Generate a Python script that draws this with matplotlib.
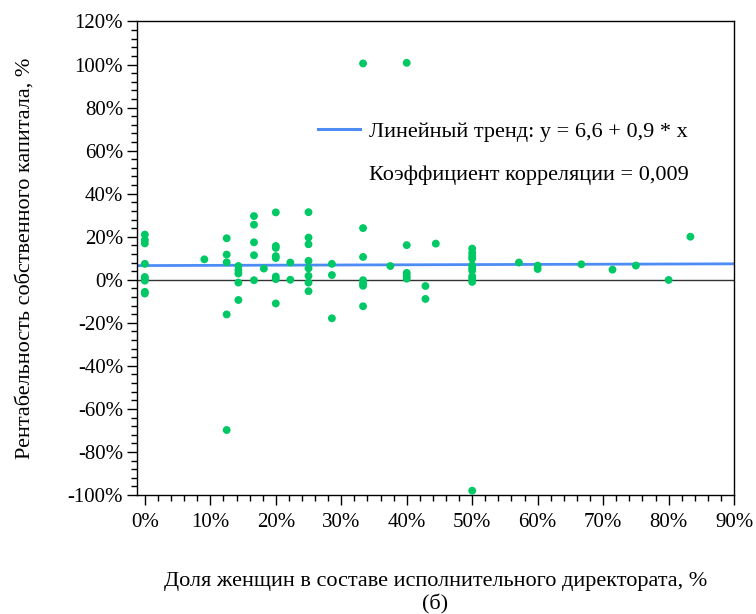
import matplotlib
matplotlib.use("Agg")
import matplotlib.pyplot as plt
from matplotlib.ticker import MultipleLocator, FuncFormatter
from matplotlib.lines import Line2D
import numpy as np

# Data: share of women in executive board (%) and return on equity (%)
x_groups = [0.0, 9.09, 12.5, 14.29, 16.67, 18.18, 20.0, 22.22, 25.0, 28.57,
            33.33, 37.5, 40.0, 42.86, 44.44, 50.0, 57.14, 60.0, 66.67,
            71.43, 75.0, 80.0, 83.33]
y_groups = [
    [21.0, 18.5, 16.9, 7.4, 1.3, 0.4, -0.4, -5.6, -6.4],
    [9.5],
    [19.3, 11.7, 8.1, -16.1, -69.8],
    [6.4, 4.4, 2.9, -1.3, -9.4],
    [29.6, 25.6, 17.4, 11.4, -0.2],
    [5.2],
    [31.3, 15.7, 14.8, 11.0, 10.1, 1.5, 0.3, -11.0],
    [8.0, 0.0],
    [31.4, 19.6, 16.5, 8.8, 5.3, 1.8, -1.3, -5.3],
    [7.4, 2.2, -17.9],
    [100.5, 24.0, 10.6, -0.2, -1.6, -2.8, -12.3],
    [6.4],
    [100.8, 16.1, 3.2, 1.7, 0.5],
    [-2.9, -8.9],
    [16.8],
    [14.5, 12.5, 11.0, 9.8, 6.7, 5.5, 4.3, 1.6, 0.5, -1.0, -98.0],
    [8.0],
    [6.6, 5.0],
    [7.2],
    [4.7],
    [6.6],
    [-0.1],
    [20.0],
]
trend_intercept = 6.6
trend_slope = 0.9

xs = []
ys = []
for xv, yl in zip(x_groups, y_groups):
    for yv in yl:
        xs.append(xv)
        ys.append(yv)

plt.rcParams['font.family'] = ['Liberation Serif', 'DejaVu Serif']

fig = plt.figure(figsize=(7.56, 6.14), dpi=100)
ax = fig.add_axes([0.1812, 0.1938, 0.7898, 0.7712])

ax.set_xlim(-1.2, 90)
ax.set_ylim(-100, 120)

# zero line
ax.axhline(0, color='#333333', lw=1.0, zorder=1)

# trend line
tx = np.array([-1.2, 90.0])
ty = trend_intercept + trend_slope * tx / 100.0
ax.plot(tx, ty, color='#4d8cf5', lw=2.0, zorder=2, solid_capstyle='butt')

# points
ax.scatter(xs, ys, s=32, color='#00c864', edgecolors='none', zorder=3)

ax.xaxis.set_major_locator(MultipleLocator(10))
ax.xaxis.set_minor_locator(MultipleLocator(2))
ax.yaxis.set_major_locator(MultipleLocator(20))
ax.yaxis.set_minor_locator(MultipleLocator(4))
ax.xaxis.set_major_formatter(FuncFormatter(lambda v, p: f"{v:.0f}%"))
ax.yaxis.set_major_formatter(FuncFormatter(lambda v, p: f"{v:.0f}%"))

ax.tick_params(axis='both', which='major', direction='out', length=7, width=1,
               labelsize=15, color='black')
ax.tick_params(axis='both', which='minor', direction='out', length=4, width=1,
               color='black')
ax.tick_params(axis='x', pad=6)
ax.tick_params(axis='y', pad=3)

for sp in ax.spines.values():
    sp.set_color('black')
    sp.set_linewidth(1.0)

ax.set_xlabel("Доля женщин в составе исполнительного директората, %\n(б)",
              fontsize=16, labelpad=29, linespacing=1.2)
ax.set_ylabel("Рентабельность собственного капитала, %", fontsize=16, labelpad=24)

handles = [Line2D([0], [0], color='#4d8cf5', lw=2.2),
           Line2D([0], [0], color='none', lw=0)]
labels = ["Линейный тренд: y = 6,6 + 0,9 * x",
          "Коэффициент корреляции = 0,009"]
leg = ax.legend(handles, labels, loc='upper left',
                bbox_to_anchor=(0.303, 0.789), frameon=False, fontsize=16,
                handlelength=1.9, handletextpad=0.4, labelspacing=1.0,
                borderaxespad=0, borderpad=0)

fig.savefig("out.png", dpi=100)
